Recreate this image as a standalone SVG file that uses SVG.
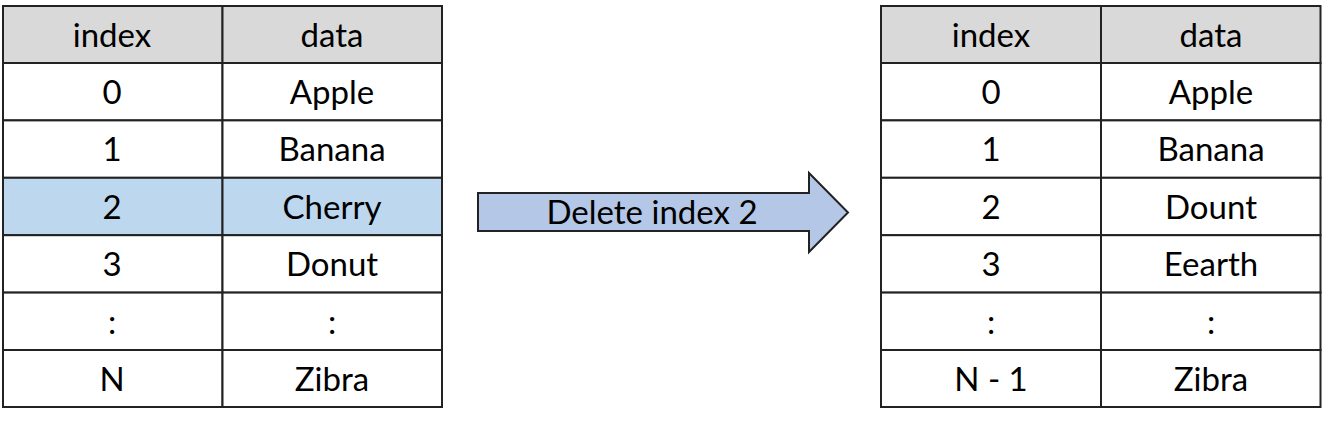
<svg xmlns="http://www.w3.org/2000/svg" width="1324" height="424" viewBox="0 0 1324 424">
<style>
.t{font-family:Lato,"Liberation Sans",sans-serif;font-size:33px;fill:#000;text-anchor:middle}
.c{stroke:#222;stroke-width:2;fill:#fff}
.h{stroke:#222;stroke-width:2;fill:#d9d9d9}
.s{stroke:#222;stroke-width:2;fill:#bdd7ee}
</style>
<rect width="1324" height="424" fill="#fff"/>
<g id="left-table">
<rect class="h" x="3" y="6" width="219.5" height="57"/><rect class="h" x="222.5" y="6" width="219.5" height="57"/>
<rect class="c" x="3" y="63" width="219.5" height="57.4"/><rect class="c" x="222.5" y="63" width="219.5" height="57.4"/>
<rect class="c" x="3" y="120.4" width="219.5" height="57.4"/><rect class="c" x="222.5" y="120.4" width="219.5" height="57.4"/>
<rect class="s" x="3" y="177.8" width="219.5" height="57.4"/><rect class="s" x="222.5" y="177.8" width="219.5" height="57.4"/>
<rect class="c" x="3" y="235.2" width="219.5" height="57.4"/><rect class="c" x="222.5" y="235.2" width="219.5" height="57.4"/>
<rect class="c" x="3" y="292.6" width="219.5" height="57.4"/><rect class="c" x="222.5" y="292.6" width="219.5" height="57.4"/>
<rect class="c" x="3" y="350" width="219.5" height="57"/><rect class="c" x="222.5" y="350" width="219.5" height="57"/>
<text class="t" x="112" y="47">index</text><text class="t" x="332" y="47">data</text>
<text class="t" x="112" y="104">0</text><text class="t" x="332" y="104">Apple</text>
<text class="t" x="112" y="161">1</text><text class="t" x="332" y="161">Banana</text>
<text class="t" x="112" y="219">2</text><text class="t" x="332" y="219">Cherry</text>
<text class="t" x="112" y="276">3</text><text class="t" x="332" y="276">Donut</text>
<text class="t" x="112" y="334">:</text><text class="t" x="332" y="334">:</text>
<text class="t" x="112" y="391">N</text><text class="t" x="332" y="391">Zibra</text>
</g>
<g id="right-table">
<rect class="h" x="881" y="6" width="220" height="57"/><rect class="h" x="1101" y="6" width="219.5" height="57"/>
<rect class="c" x="881" y="63" width="220" height="57.4"/><rect class="c" x="1101" y="63" width="219.5" height="57.4"/>
<rect class="c" x="881" y="120.4" width="220" height="57.4"/><rect class="c" x="1101" y="120.4" width="219.5" height="57.4"/>
<rect class="c" x="881" y="177.8" width="220" height="57.4"/><rect class="c" x="1101" y="177.8" width="219.5" height="57.4"/>
<rect class="c" x="881" y="235.2" width="220" height="57.4"/><rect class="c" x="1101" y="235.2" width="219.5" height="57.4"/>
<rect class="c" x="881" y="292.6" width="220" height="57.4"/><rect class="c" x="1101" y="292.6" width="219.5" height="57.4"/>
<rect class="c" x="881" y="350" width="220" height="57"/><rect class="c" x="1101" y="350" width="219.5" height="57"/>
<text class="t" x="991" y="47">index</text><text class="t" x="1211" y="47">data</text>
<text class="t" x="991" y="104">0</text><text class="t" x="1211" y="104">Apple</text>
<text class="t" x="991" y="161">1</text><text class="t" x="1211" y="161">Banana</text>
<text class="t" x="991" y="219">2</text><text class="t" x="1211" y="219">Dount</text>
<text class="t" x="991" y="276">3</text><text class="t" x="1211" y="276">Eearth</text>
<text class="t" x="991" y="334">:</text><text class="t" x="1211" y="334">:</text>
<text class="t" x="991" y="391">N - 1</text><text class="t" x="1211" y="391">Zibra</text>
</g>
<g id="connectors">
<g id="arrow">
<polygon points="478,193 809,193 809,173 848,212.5 809,252 809,231 478,231" fill="#b4c7e7" stroke="#222" stroke-width="2" stroke-linejoin="miter"/>
<text class="t" x="652" y="224">Delete index 2</text>
</g>
</g>
</svg>
